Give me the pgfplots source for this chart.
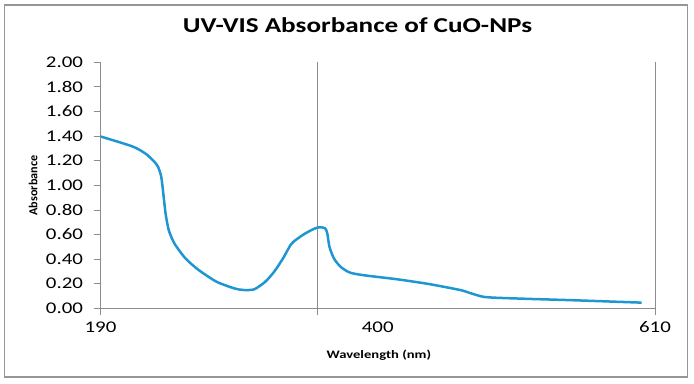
\documentclass[border=0pt]{standalone}
\usepackage{pgfplots}
\pgfplotsset{compat=1.18}
\usepackage{fontspec}
\setmainfont{Carlito}[FakeStretch=1.28]
\newfontfamily\plainfont{Carlito}
\definecolor{curve}{RGB}{30,150,210}
\definecolor{axgray}{RGB}{140,140,140}
\definecolor{framegray}{RGB}{150,150,150}
\begin{document}
\begin{tikzpicture}[x=1bp,y=1bp]
\useasboundingbox (0,0) rectangle (694,383);
\draw[framegray, line width=1.8bp] (4.5,6) rectangle (687.5,378);
\begin{axis}[
  at={(100.5bp,74.7bp)}, anchor=south west,
  scale only axis, width=554.5bp, height=246bp,
  xmin=190, xmax=610, ymin=0, ymax=2,
  axis x line*=bottom, axis y line*=left,
  axis line style={draw=axgray, line width=0.8bp, -},
  xtick={190,354,610}, xticklabels={190,{},610},
  extra x ticks={400}, extra x tick labels={400},
  extra x tick style={grid=none, major tick style={draw=none}},
  xmajorgrids, grid style={axgray, line width=0.8bp},
  ytick={0,0.2,0.4,0.6,0.8,1.0,1.2,1.4,1.6,1.8,2.0},
  yticklabels={0.00,0.20,0.40,0.60,0.80,1.00,1.20,1.40,1.60,1.80,2.00},
  tick align=outside, major tick length=7bp,
  tick style={axgray, line width=0.8bp},
  tick label style={font=\fontsize{16.3bp}{19bp}\selectfont},
  yticklabel style={xshift=-7bp},
  xticklabel style={yshift=-3bp},
  title={UV-VIS Absorbance of CuO-NPs},
  title style={at={(axis description cs:0.4635,1.0967)}, anchor=base, font=\bfseries\fontsize{21.2bp}{25bp}\selectfont},
  xlabel={Wavelength (nm)},
  xlabel style={at={(axis description cs:0.502,-0.206)}, anchor=base, font=\bfseries\fontsize{11.4bp}{13bp}\selectfont},
  ylabel={Absorbance},
  ylabel style={at={(axis description cs:-0.1217,0.499)}, anchor=center, font=\plainfont\bfseries\fontsize{12.2bp}{14bp}\selectfont},
]
\addplot[curve, line width=2.5bp, smooth, tension=0.4] coordinates {
(190,1.397) (214.2,1.316) (224.2,1.257) (230.9,1.19) (233.6,1.15)
(236.0,1.07) (237.6,0.93) (239.3,0.77) (241.7,0.635) (246.0,0.527)
(254.4,0.405) (264.5,0.31) (277.9,0.216) (291.3,0.162) (298.0,0.149)
(306.4,0.154) (314.8,0.216) (321.5,0.297) (328.2,0.405) (334.2,0.519)
(338.3,0.559) (345.0,0.608) (351.7,0.646) (355.7,0.659) (360.1,0.651)
(361.8,0.608) (363.4,0.50) (366.8,0.405) (371.8,0.338) (378.5,0.292)
(388.6,0.27) (415.4,0.235) (438.9,0.197) (462.4,0.149) (469.1,0.127)
(479.2,0.095) (489.2,0.086) (516.1,0.076) (549.6,0.065) (599.9,0.046)
};
\end{axis}
\end{tikzpicture}
\end{document}
